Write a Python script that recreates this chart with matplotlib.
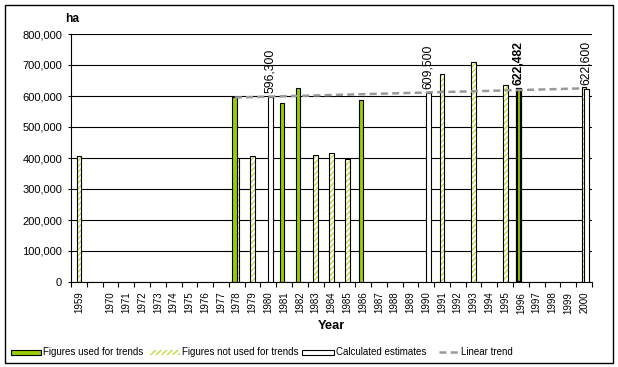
import matplotlib.pyplot as plt
from matplotlib.patches import Rectangle
from matplotlib.lines import Line2D
import matplotlib.ticker as mticker
import numpy as np

plt.rcParams['font.family'] = ['Liberation Sans', 'DejaVu Sans']

# categories on the x axis (one empty slot between 1959 and 1970)
years = ['1959', ''] + [str(y) for y in range(1970, 2001)]

used_years = ['1978', '1981', '1982', '1986', '1996']
used_vals = [596000, 578000, 626000, 588000, 622482]

notused_years = ['1959', '1978', '1979', '1983', '1984', '1985', '1991', '1993', '1995', '2000']
notused_vals = [407000, 400000, 407000, 410000, 416000, 398000, 672000, 711000, 636000, 628000]

calc_years = ['1980', '1990', '2000']
calc_vals = [596300, 609500, 622600]

trend_years = ['1978', '2000']
trend_vals = [595000, 624500]

labelled = [('calc', '1980', '596,300'), ('calc', '1990', '609,500'),
            ('used', '1996', '622,482'), ('calc', '2000', '622,600')]

W, H = 618, 367
fig = plt.figure(figsize=(W / 100, H / 100), dpi=100)
ax = fig.add_axes([71 / W, (H - 282) / H, 521 / W, 248 / H])

pos = {y: i for i, y in enumerate(years)}
green = '#99cc00'
hatchc = '#c2dc3c'
bw = 0.3
off = {'used': -0.13, 'notused': 0.0, 'calc': 0.13}
trend_ls = (0, (2.8, 1.7))

xu = np.array([pos[y] for y in used_years]) + off['used']
xn = np.array([pos[y] for y in notused_years]) + off['notused']
xc = np.array([pos[y] for y in calc_years]) + off['calc']

# hatched: hatch layer then black outline
ax.bar(xn, notused_vals, bw, color='white', edgecolor=hatchc, hatch='//////', linewidth=0, zorder=3)
ax.bar(xn, notused_vals, bw, fill=False, edgecolor='black', linewidth=0.8, zorder=3)
ax.bar(xc, calc_vals, bw, color='white', edgecolor='black', linewidth=0.8, zorder=3)
lw_used = [1.6 if y == '1996' else 0.8 for y in used_years]
ax.bar(xu, used_vals, bw, color=green, edgecolor='black', linewidth=lw_used, zorder=4)

xt = np.array([pos[y] for y in trend_years]) + off['used']
ax.plot(xt, trend_vals, color='#999999', lw=1.8, ls=trend_ls, zorder=5)

series = {'used': dict(zip(used_years, used_vals)), 'calc': dict(zip(calc_years, calc_vals))}
for s, y, txt in labelled:
    ax.annotate(txt, (pos[y] + off[s], series[s][y]), xytext=(0, 3), textcoords='offset points',
                rotation=90, ha='center', va='bottom', fontsize=8.7,
                fontweight='bold' if s == 'used' else 'normal', zorder=6)

ax.set_xlim(-0.5, len(years) - 0.5)
ax.set_ylim(0, 800000)
ax.yaxis.set_major_locator(mticker.MultipleLocator(100000))
ax.yaxis.set_major_formatter(mticker.FuncFormatter(lambda v, p: f'{int(v):,}'))
ax.grid(axis='y', color='black', lw=0.8, zorder=0)
ax.set_xticks(range(len(years)))
ax.set_xticklabels(years, rotation=90, fontsize=7)
ax.set_xticks(np.arange(-0.5, len(years), 1), minor=True)
ax.tick_params(axis='x', which='major', length=0, pad=7)
ax.tick_params(axis='x', which='minor', length=3.5, width=0.8, direction='out')
ax.tick_params(axis='y', length=2.3, width=0.8, pad=4, labelsize=8)
for s in ['top', 'right']:
    ax.spines[s].set_visible(False)
for s in ['left', 'bottom']:
    ax.spines[s].set_linewidth(0.8)

fig.text(72 / W, 1 - 19 / H, 'ha', ha='center', va='center', fontsize=8.6, fontweight='bold')
fig.text(331 / W, 1 - 326 / H, 'Year', ha='center', va='center', fontsize=9.3, fontweight='bold')

# outer frame
fig.add_artist(Rectangle((5 / W, 4 / H), 608 / W, 358 / H, transform=fig.transFigure,
                         fill=False, edgecolor='black', lw=1.0))

# legend drawn by hand
ly0, lh = 1 - 354.5 / H, 5 / H
def lg_patch(x0, x1, **kw):
    fig.add_artist(Rectangle((x0 / W, ly0), (x1 - x0) / W, lh, transform=fig.transFigure, **kw))

lg_patch(11, 41, facecolor=green, edgecolor='black', lw=0.8)
lg_patch(150, 180, facecolor='white', edgecolor=hatchc, hatch='//////', lw=0)
lg_patch(302, 334, facecolor='white', edgecolor='black', lw=0.8)
fig.add_artist(Line2D([439 / W, 458 / W], [1 - 352 / H] * 2, transform=fig.transFigure,
                      color='#999999', lw=1.8, ls=trend_ls))
ly = 1 - 352 / H
for x, t in [(43, 'Figures used for trends'), (182, 'Figures not used for trends'),
             (336, 'Calculated estimates'), (461, 'Linear trend')]:
    fig.text(x / W, ly, t, ha='left', va='center', fontsize=7)

fig.savefig('out.png', dpi=100)
